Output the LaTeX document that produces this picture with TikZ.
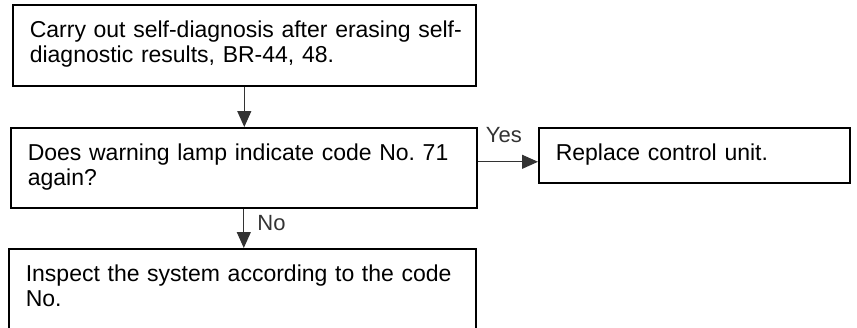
\documentclass[tikz,border=0pt]{standalone}
\usepackage{fontspec}
\setmainfont{Liberation Sans}
\usetikzlibrary{arrows.meta}

\begin{document}
\frenchspacing
\begin{tikzpicture}[x=0.5pt,y=-0.5pt,
        stepbox/.style={draw, line width=0.8pt, anchor=north west, inner xsep=4pt, inner ysep=0pt,
            align=left, font=\fontsize{11.5}{12.5}\selectfont, text height=16.5pt,
            execute at begin node={\leftskip=4.5pt\relax}},
        flow/.style={-{Triangle[length=8pt,width=7pt]}, line width=0.6pt, black!80},
        answer/.style={font=\fontsize{11}{12}\selectfont, inner sep=1pt}]
        \useasboundingbox (0,0) rectangle (857,327);
        \clip (0,0) rectangle (857,327);
        % boxes
        \node[stepbox, text width=223.5pt, text depth=24pt] (check) at (12,4)
            {Carry out self-diagnosis after erasing self-\\diagnostic results, BR-44, 48.};
        \node[stepbox, text width=225pt, text depth=23.5pt] (lamp) at (10,127)
            {Does warning lamp indicate code No. 71\\again?};
        \node[stepbox, text width=147.5pt, text depth=11pt] (unit) at (538,127)
            {Replace control unit.};
        \node[stepbox, text width=225.5pt, text depth=32pt] (insp) at (8,248)
            {Inspect the system according to the code\\No.};
        % arrows
        \draw[flow] (check.south) -- (check.south |- lamp.north);
        \draw[flow] ([yshift=3pt]lamp.east) -- ([yshift=3pt]lamp.east -| unit.west)
            node[answer, midway, above=8pt, xshift=-2pt] {Yes};
        \draw[flow] (lamp.south) -- (lamp.south |- insp.north)
            node[answer, pos=0.37, right=5.5pt] {No};
    \end{tikzpicture}
\end{document}
